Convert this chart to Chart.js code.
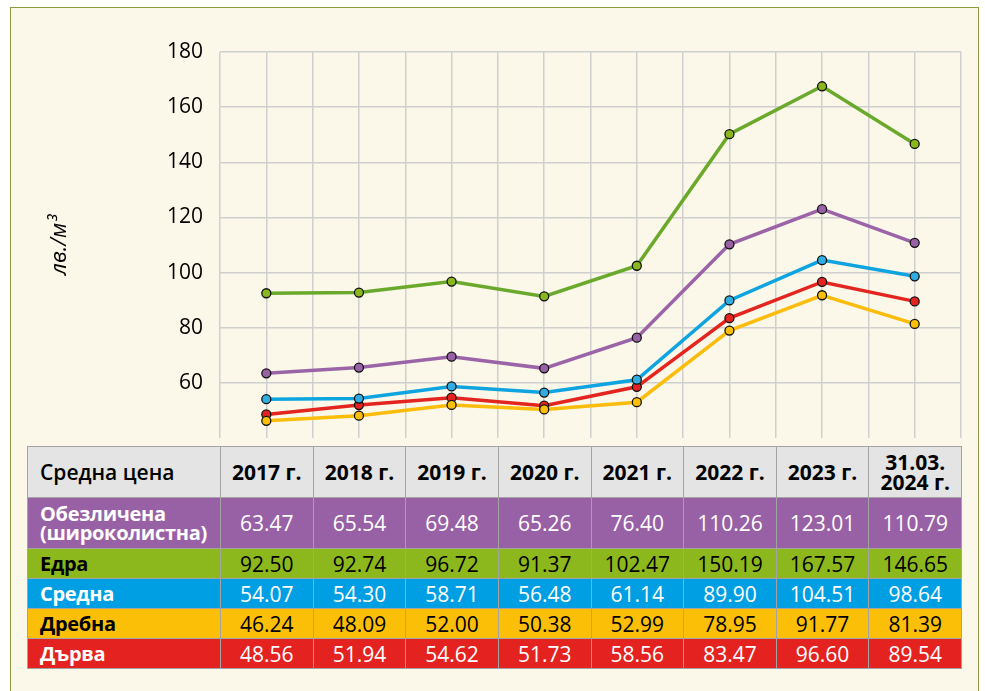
<!DOCTYPE html>
<html>
<head>
<meta charset="utf-8">
<script src="https://cdn.jsdelivr.net/npm/chart.js@4.4.0/dist/chart.umd.min.js"></script>
<style>
    body { margin: 0; background: #fff; width: 985px; height: 691px; overflow: hidden; font-family: "Open Sans", "Noto Sans", sans-serif; }
    #frame { position: absolute; left: 10px; top: 7px; width: 967px; height: 700px; border: 1.5px solid #8d9a3d; background: #fbf8e9; }
    #chartBox { position: absolute; left: 12px; top: 30px; width: 955px; height: 415px; }
    #priceTable { position: absolute; left: 27px; top: 446px; width: 935px; border-collapse: collapse; table-layout: fixed; }
    #priceTable td, #priceTable th { border: 1.5px solid #a3a3a3; padding: 0; text-align: center; font-size: 21px; }
    #priceTable th { background: #e4e4e4; font-weight: 700; height: 50px; line-height: 20px; color: #000; }
    #priceTable th.first { text-align: left; padding-left: 12px; font-weight: 600; }
    #priceTable td { height: 29px; font-weight: 400; }
    #priceTable td.label { text-align: left; padding-left: 12px; font-weight: 700; font-size: 20px; line-height: 19px; letter-spacing: -0.3px; }
    #priceTable tr.tall td { height: 50px; }
</style>
</head>
<body>
<div id="frame"></div>
<div id="chartBox"><canvas id="priceChart"></canvas></div>
<table id="priceTable"></table>

<script>
// categories and series (лв./м³)
var years = ['2017 г.', '2018 г.', '2019 г.', '2020 г.', '2021 г.', '2022 г.', '2023 г.', '31.03.|2024 г.'];
var obezlichena = [63.47, 65.54, 69.48, 65.26, 76.40, 110.26, 123.01, 110.79];
var edra = [92.50, 92.74, 96.72, 91.37, 102.47, 150.19, 167.57, 146.65];
var sredna = [54.07, 54.30, 58.71, 56.48, 61.14, 89.90, 104.51, 98.64];
var drebna = [46.24, 48.09, 52.00, 50.38, 52.99, 78.95, 91.77, 81.39];
var darva = [48.56, 51.94, 54.62, 51.73, 58.56, 83.47, 96.60, 89.54];
var yTicks = [60, 80, 100, 120, 140, 160, 180];

var rows = [
    { name: 'Обезличена<br>(широколистна)', data: obezlichena, line: '#9c64a8', fill: '#9961a5', cell: '#9961a5', text: '#fff', tall: true },
    { name: 'Едра', data: edra, line: '#6aa92c', fill: '#8ab61e', cell: '#8cb81d', text: '#000' },
    { name: 'Средна', data: sredna, line: '#0ea4e0', fill: '#30aee3', cell: '#009fe3', text: '#fff' },
    { name: 'Дребна', data: drebna, line: '#fbbc0b', fill: '#fcbf07', cell: '#fcbf07', text: '#000' },
    { name: 'Дърва', data: darva, line: '#e3241f', fill: '#e42320', cell: '#e42320', text: '#fff' }
];

// build the table
var table = document.getElementById('priceTable');
var html = '<colgroup><col style="width:193px">';
for (var i = 0; i < years.length; i++) html += '<col>';
html += '</colgroup><tr><th class="first">Средна цена</th>';
years.forEach(function (y) { html += '<th>' + y.replace('|', '<br>') + '</th>'; });
html += '</tr>';
rows.forEach(function (r) {
    html += '<tr' + (r.tall ? ' class="tall"' : '') + ' style="background:' + r.cell + ';color:' + r.text + '">';
    html += '<td class="label">' + r.name + '</td>';
    r.data.forEach(function (v) { html += '<td>' + v.toFixed(2) + '</td>'; });
    html += '</tr>';
});
table.innerHTML = html;

// chart
var datasets = rows.map(function (r) {
    return {
        label: r.name,
        data: r.data.map(function (v, i) { return { x: i, y: v }; }),
        borderColor: r.line,
        borderWidth: 3.5,
        pointBackgroundColor: r.fill,
        pointBorderColor: '#111',
        pointBorderWidth: 1.3,
        pointRadius: 4.5,
        tension: 0
    };
});

var ctx = document.getElementById('priceChart').getContext('2d');
var priceChart = new Chart(ctx, {
    type: 'line',
    data: { datasets: datasets },
    options: {
        responsive: true,
        maintainAspectRatio: false,
        animation: false,
        layout: { padding: { left: 0, top: 22, right: 6, bottom: 7 } },
        plugins: { legend: { display: false }, tooltip: { enabled: false } },
        scales: {
            x: {
                type: 'linear',
                min: -0.5,
                max: 7.5,
                // no labels under the plot, the table takes their place
                afterFit: function (scale) { scale.height = 0; scale.paddingLeft = 0; scale.paddingRight = 0; },
                ticks: { display: false, stepSize: 0.5 },
                grid: { color: '#cfcfcf', lineWidth: 1.5, drawTicks: false },
                border: { display: false }
            },
            y: {
                min: 40,
                max: 180,
                afterBuildTicks: function (scale) {
                    scale.ticks = [{ value: 40 }].concat(yTicks.map(function (v) { return { value: v }; }));
                },
                afterFit: function (scale) { scale.width = 208; scale.paddingTop = 0; scale.paddingBottom = 0; },
                ticks: {
                    padding: 17,
                    color: '#000',
                    font: { family: 'Open Sans', size: 21 },
                    callback: function (v) { return v === 40 ? '' : v; }
                },
                grid: {
                    drawTicks: false,
                    lineWidth: 1.5,
                    color: function (c) { return c.tick && c.tick.value === 40 ? 'rgba(0,0,0,0)' : '#cfcfcf'; }
                },
                border: { display: false },
                title: {
                    display: true,
                    text: 'лв./м³',
                    color: '#000',
                    font: { family: 'Open Sans', size: 22, style: 'italic' },
                    padding: { top: 35, bottom: 0 }
                }
            }
        }
    }
});
</script>
</body>
</html>
